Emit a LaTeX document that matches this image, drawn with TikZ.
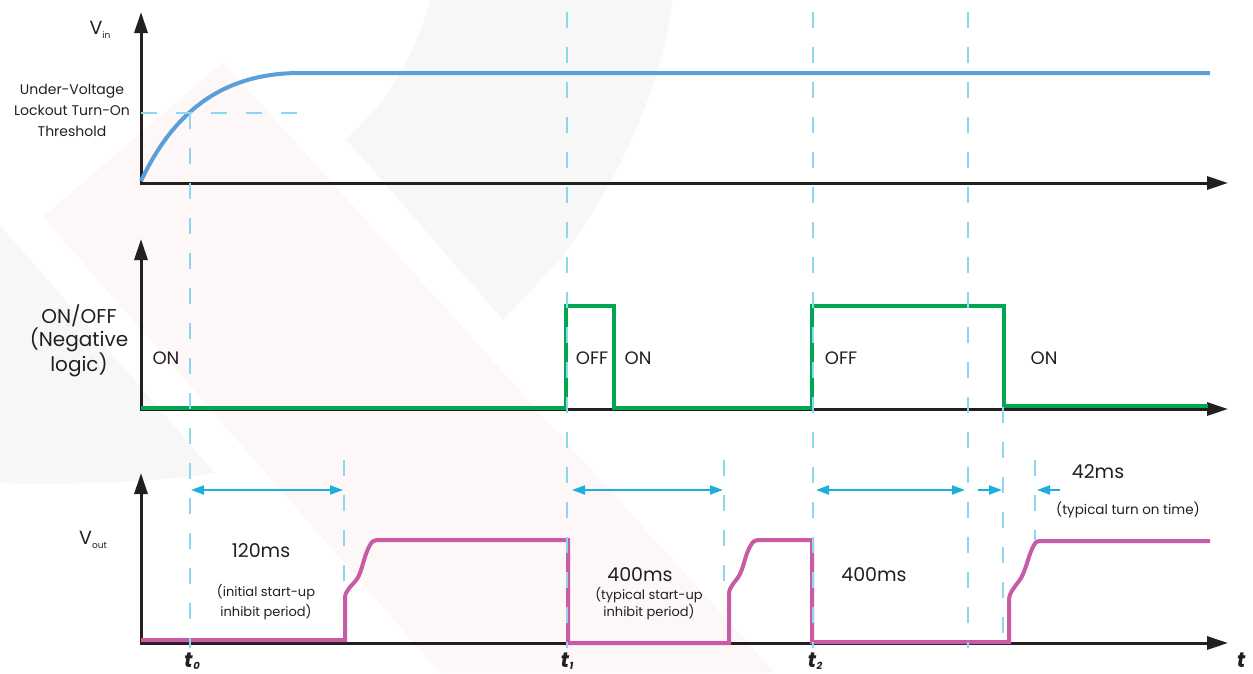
\documentclass[tikz,border=0pt]{standalone}
\usepackage{fontspec}
\setmainfont{Poppins}
\usetikzlibrary{arrows.meta}
\definecolor{axisk}{HTML}{231F20}
\definecolor{vinblue}{HTML}{5B9FD8}
\definecolor{ongreen}{HTML}{00A651}
\definecolor{voutmag}{HTML}{C95AA5}
\definecolor{dashblue}{HTML}{8ED6F0}
\definecolor{dimcyan}{HTML}{1DAEE0}
\definecolor{wmgrey}{HTML}{F7F7F7}
\definecolor{wmpink}{HTML}{FEF7F7}
\newcommand{\sub}[1]{\raisebox{-4pt}{\fontsize{9}{9}\selectfont #1}}
\newcommand{\tsub}[1]{\kern0.5pt\raisebox{-2pt}{\fontsize{10}{10}\selectfont #1}}
\tikzset{dtip/.tip={Triangle[length=13pt,width=9pt]},
 atip/.tip={Triangle[length=21pt,width=13pt]}}
\begin{document}
\begin{tikzpicture}[x=1pt,y=-1pt,
 axis/.style={line width=3pt,draw=axisk,{atip}-{atip}},
 wave/.style={line width=4pt, line join=miter},
 guide/.style={line width=2pt, draw=dashblue, dash pattern=on 16pt off 19pt},
 dim/.style={line width=2pt, draw=dimcyan},
 lbl/.style={text=axisk, inner sep=0pt, font=\fontsize{14}{21}\selectfont, align=center},
 big/.style={text=axisk, inner sep=0pt, font=\fontsize{19}{23}\selectfont, align=center},
 state/.style={text=axisk, inner sep=0pt, font=\fontsize{18}{20}\selectfont},
 tlab/.style={text=axisk, inner sep=0pt, font=\fontsize{21}{24}\selectfont\bfseries\itshape}
]
\useasboundingbox (0,0) rectangle (1253,673);
% watermark
\fill[wmpink] (43,217) -- (223,62) -- (775,673) -- (440,673) -- cycle;
\fill[wmgrey] (430,0) .. controls (415,55) and (390,100) .. (346,139) -- (503,320) -- (560,260) .. controls (620,180) and (660,90) .. (673,0) -- cycle;
\fill[wmgrey] (0,225) -- (215,473) .. controls (150,483) and (60,485) .. (0,483) -- cycle;
% axes
\draw[axis] (141,12) -- (141,183) -- (1228,183);
\draw[axis] (141,239) -- (141,409) -- (1228,409);
\draw[axis] (141,473) -- (141,643) -- (1228,643);
% waveforms
\draw[wave, vinblue] (141,181) .. controls (170,120) and (215,73) .. (300,73) -- (1210,73);
\draw[wave, ongreen] (141,408) -- (566,408) -- (566,306) -- (614,306) -- (614,408) -- (812,408) -- (812,306) -- (1004,306) -- (1004,406) -- (1208,406);
\draw[wave, voutmag] (141,640) -- (345,640) -- (345,598)
  .. controls (345,590) and (352,586) .. (357,579)
  .. controls (362,572) and (364,555) .. (370,545)
  .. controls (372,541) and (374,540) .. (380,540) -- (568,540) -- (568,643) -- (729,643) -- (729,594)
  .. controls (729,586) and (736,582) .. (740,574)
  .. controls (744,566) and (746,552) .. (751,545)
  .. controls (753,541) and (755,540) .. (761,540) -- (812,540) -- (812,642) -- (1009,642) -- (1009,600)
  .. controls (1009,592) and (1016,586) .. (1021,578)
  .. controls (1026,570) and (1029,553) .. (1034,545)
  .. controls (1036,541) and (1038,541) .. (1044,541) -- (1210,541);
% guide lines
\draw[guide] (141,113) -- (300,113);
\draw[guide] (190,113) -- (190,648);
\draw[guide] (344,460) -- (344,600);
\draw[guide] (567,12) -- (567,648);
\draw[guide] (724,460) -- (724,590);
\draw[guide] (813,12) -- (813,648);
\draw[guide] (968,12) -- (968,648);
\draw[guide] (1003,407) -- (1003,640);
\draw[guide] (1035,460) -- (1035,540);
% dimension arrows
\coordinate (a1) at (191,490); \coordinate (b1) at (343,490);
\coordinate (a2) at (572,490); \coordinate (b2) at (723,490);
\coordinate (a3) at (816,490); \coordinate (b3) at (965,490);
\coordinate (a4) at (978,490); \coordinate (b4) at (1002,490);
\coordinate (a5) at (1060,490); \coordinate (b5) at (1037,490);
\draw[dim, {dtip}-{dtip}] (a1) -- (b1);
\draw[dim, {dtip}-{dtip}] (a2) -- (b2);
\draw[dim, {dtip}-{dtip}] (a3) -- (b3);
\draw[dim, -{dtip}] (a4) -- (b4);
\draw[dim, -{dtip}] (a5) -- (b5);
% labels
\node[big] (vin) at (100,30) {V\sub{in}};
\node[lbl] (uvlo) at (72,110) {Under-Voltage\\Lockout Turn-On\\Threshold};
\node[big, font=\fontsize{20}{23}\selectfont] (onoff) at (79,341) {ON/OFF\\(Negative\\logic)};
\node[big] (vout) at (93,540) {V\sub{out}};
\node[state] (on1) at (166,358) {ON};
\node[state] (off1) at (592,358) {OFF};
\node[state] (on2) at (638,358) {ON};
\node[state] (off2) at (841,358) {OFF};
\node[state] (on3) at (1044,358) {ON};
\node[big] (ms120) at (261,551) {120ms};
\node[lbl, font=\fontsize{13}{20}\selectfont] (note1) at (266,602) {(initial start-up\\inhibit period)};
\node[big] (ms400a) at (640,575) {400ms};
\node[lbl, font=\fontsize{13}{17}\selectfont] (note2) at (649,604) {(typical start-up\\inhibit period)};
\node[big] (ms400b) at (874,575) {400ms};
\node[big] (ms42) at (1098,472) {42ms};
\node[lbl, font=\fontsize{13.5}{16}\selectfont] (note3) at (1128,510) {(typical turn on time)};
\node[tlab, anchor=base] (t0) at (192,667) {t\tsub{0}};
\node[tlab, anchor=base] (t1) at (567,667) {t\tsub{1}};
\node[tlab, anchor=base] (t2) at (815,667) {t\tsub{2}};
\node[tlab, anchor=base] (tt) at (1241,667) {t};
\end{tikzpicture}
\end{document}
